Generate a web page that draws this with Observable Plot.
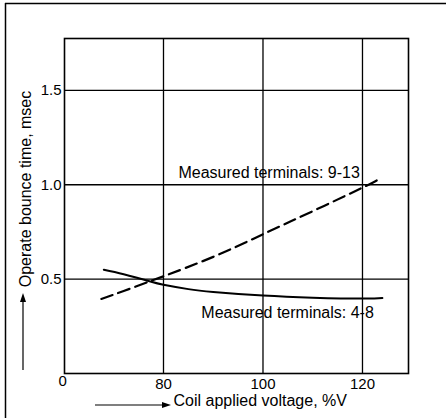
<!DOCTYPE html>
<html>
<head>
<meta charset="utf-8">
<script src="https://cdn.jsdelivr.net/npm/d3@7"></script>
<script src="https://cdn.jsdelivr.net/npm/@observablehq/plot@0.6"></script>
<style>
  html, body { margin: 0; padding: 0; background: white; }
  #chart { width: 446px; height: 418px; position: relative; }
</style>
</head>
<body>
<div id="chart"></div>
<script>
// Data
const solidVoltage = [68, 72, 77, 80, 85, 90, 100, 110, 120, 124];
const solidBounce  = [0.55, 0.526, 0.49, 0.47, 0.447, 0.432, 0.413, 0.402, 0.397, 0.40];
const dashedVoltage = [67.5, 72, 77, 80, 90, 100, 110, 120, 123];
const dashedBounce  = [0.395, 0.437, 0.486, 0.515, 0.618, 0.738, 0.86, 0.985, 1.025];
const xTicks = [80, 100, 120];
const yTicks = [0.5, 1.0, 1.5];
const seriesLabels = ["Measured terminals: 9-13", "Measured terminals: 4-8"];
const labelVoltage = [83.0, 87.6];
const labelBounce = [1.061, 0.32];
const xLabel = "Coil applied voltage, %V";
const yLabel = "Operate bounce time, msec";
const xOriginLabel = "0";

const solid = solidVoltage.map((v, i) => ({v, b: solidBounce[i]}));
const dashed = dashedVoltage.map((v, i) => ({v, b: dashedBounce[i]}));
const labels = seriesLabels.map((t, i) => ({t, v: labelVoltage[i], b: labelBounce[i]}));

const W = 446, H = 418;
const mL = 64, mR = 38, mT = 38, mB = 45;
const FONT = "'Liberation Sans', Arial, sans-serif";

const chart = Plot.plot({
  width: W, height: H,
  marginLeft: mL, marginRight: mR, marginTop: mT, marginBottom: mB,
  style: {background: "white", color: "black", fontFamily: FONT, fontSize: "15px"},
  x: {domain: [60.1, 129.25], ticks: xTicks, tickSize: 0, tickPadding: 5, label: null},
  y: {domain: [0, 1.775], ticks: yTicks, tickFormat: d3.format(".1f"), tickSize: 0, tickPadding: 3, label: null},
  marks: [
    Plot.ruleX(xTicks, {stroke: "black", strokeWidth: 1.3}),
    Plot.ruleY(yTicks, {stroke: "black", strokeWidth: 1.3}),
    Plot.frame({stroke: "black", strokeWidth: 1.6}),
    Plot.line(solid, {x: "v", y: "b", curve: "natural", stroke: "black", strokeWidth: 2}),
    Plot.line(dashed, {x: "v", y: "b", curve: "natural", stroke: "black", strokeWidth: 2.2, strokeDasharray: "12,6"}),
    Plot.text(labels, {x: "v", y: "b", text: "t", textAnchor: "start", fontSize: 16, fill: "black"}),
    Plot.text([xOriginLabel], {frameAnchor: "bottom-left", dx: -6, dy: 12, fontSize: 15, fill: "black"}),
    Plot.text([xLabel], {frameAnchor: "bottom-left", dx: 109, dy: 32, textAnchor: "start", fontSize: 16, fill: "black"})
  ]
});
document.getElementById("chart").appendChild(chart);

const svg = d3.select(chart);
// Rotated y-axis label
svg.append("text")
  .attr("transform", "translate(25,189) rotate(-90)")
  .attr("text-anchor", "middle")
  .attr("dominant-baseline", "central")
  .attr("font-family", FONT)
  .attr("font-size", 16)
  .attr("fill", "black")
  .text(yLabel);

// Decorative arrows and page border
const deco = svg.append("g").attr("stroke", "black").attr("fill", "black");
deco.append("line").attr("x1", 5).attr("y1", 3.5).attr("x2", W).attr("y2", 3.5).attr("stroke-width", 1.5);
deco.append("line").attr("x1", 5.5).attr("y1", 3).attr("x2", 5.5).attr("y2", H).attr("stroke-width", 1.5);
// x-axis arrow
deco.append("line").attr("x1", 95).attr("y1", 405).attr("x2", 164).attr("y2", 405).attr("stroke-width", 1.2);
deco.append("path").attr("d", "M171,405 L162,402 L162,408 Z").attr("stroke", "none");
// y-axis arrow
deco.append("line").attr("x1", 23).attr("y1", 370).attr("x2", 23).attr("y2", 300).attr("stroke-width", 1.2);
deco.append("path").attr("d", "M23,293 L20,302 L26,302 Z").attr("stroke", "none");
</script>
</body>
</html>
